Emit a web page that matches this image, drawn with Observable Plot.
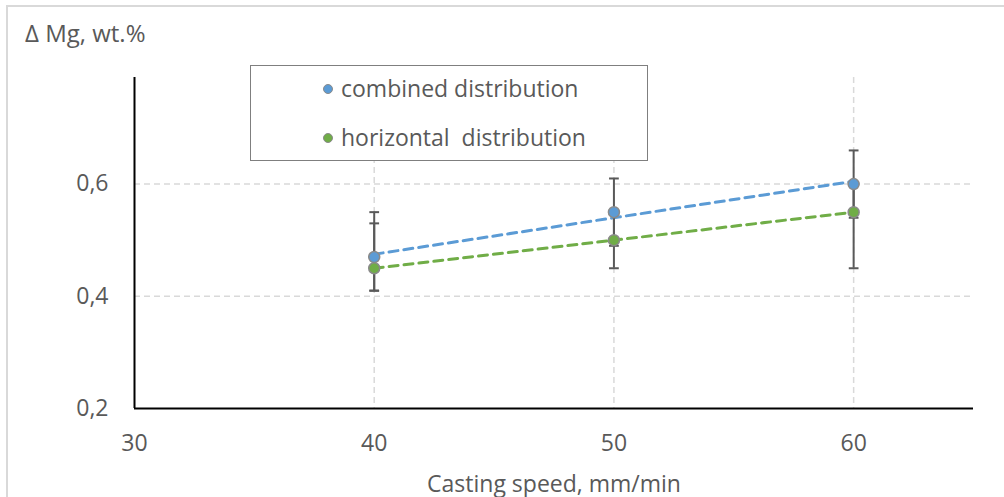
<!DOCTYPE html>
<html>
<head>
<meta charset="utf-8">
<script src="https://cdn.jsdelivr.net/npm/d3@7"></script>
<script src="https://cdn.jsdelivr.net/npm/@observablehq/plot@0.6"></script>
<style>
  html, body { margin: 0; padding: 0; background: #fff; overflow: hidden; }
  #wrap { position: relative; width: 1004px; height: 497px; overflow: hidden; font-family: "Open Sans", Lato, sans-serif; color: #595959; }
  #frame { position: absolute; left: 6px; top: 5px; width: 1020px; height: 520px; border: 2px solid #d9d9d9; box-sizing: border-box; }
  #chart { position: absolute; left: 0; top: 0; }
  #title { position: absolute; left: 25px; top: 18px; font-size: 24px; line-height: 30px; white-space: nowrap; }
  #legend { position: absolute; left: 250px; top: 65px; width: 398px; height: 96px; border: 1.5px solid #7f7f7f; box-sizing: border-box; background: #fff; }
  .item { position: absolute; left: 72px; font-size: 23px; white-space: pre; line-height: 1; }
  .item .sw { display: inline-block; width: 8px; height: 8px; border-radius: 50%; border: 1px solid #8a8a8a; margin-right: 8px; vertical-align: middle; position: relative; top: -2px; }
</style>
</head>
<body>
<div id="wrap">
  <div id="frame"></div>
  <div id="chart"></div>
  <div id="title">Δ Mg, wt.%</div>
  <div id="legend"></div>
</div>
<script>
// ---- data ----
const speeds = [40, 50, 60];
const seriesNames = ["combined distribution", "horizontal  distribution"];
const seriesColors = ["#5b9bd5", "#70ad47"];
const combined = [0.47, 0.55, 0.60];
const horizontal = [0.45, 0.50, 0.55];
const combinedLow = [0.41, 0.49, 0.54];
const combinedHigh = [0.55, 0.61, 0.66];
const horizontalLow = [0.41, 0.45, 0.45];
const horizontalHigh = [0.53, 0.55, 0.60];
const xTicks = [30, 40, 50, 60];
const yTicks = [0.2, 0.4, 0.6];
const xGrid = [40, 50, 60];
const yGrid = [0.4, 0.6];
const xLabel = "Casting speed, mm/min";

// ---- build table ----
const rows = [];
speeds.forEach((s, i) => {
  rows.push({x: s, y: combined[i], lo: combinedLow[i], hi: combinedHigh[i], series: seriesNames[0]});
  rows.push({x: s, y: horizontal[i], lo: horizontalLow[i], hi: horizontalHigh[i], series: seriesNames[1]});
});
const caps = rows.flatMap(d => [{x: d.x, y: d.lo}, {x: d.x, y: d.hi}]);

// horizontal cap symbol
const capSymbol = {
  draw(context, size) {
    const w = Math.sqrt(size) / 2;
    context.moveTo(-w, 0);
    context.lineTo(w, 0);
  }
};

const fmt = d => d.toFixed(1).replace(".", ",");

const chart = Plot.plot({
  width: 1004,
  height: 497,
  marginLeft: 134,
  marginRight: 31,
  marginTop: 77,
  marginBottom: 89,
  style: {fontFamily: "'Open Sans', Lato, sans-serif", fontSize: "23px", color: "#595959", background: "transparent"},
  x: {domain: [30, 65]},
  y: {domain: [0.2, 0.79]},
  color: {domain: seriesNames, range: seriesColors},
  marks: [
    Plot.gridX(xGrid, {stroke: "#d9d9d9", strokeOpacity: 1, strokeWidth: 1.5, strokeDasharray: "6,4"}),
    Plot.gridY(yGrid, {stroke: "#d9d9d9", strokeOpacity: 1, strokeWidth: 1.5, strokeDasharray: "6,4"}),
    Plot.axisY({ticks: yTicks, tickSize: 0, tickPadding: 26, tickFormat: fmt, label: null, fontSize: 23}),
    Plot.axisX({ticks: xTicks, tickSize: 0, tickPadding: 26, label: xLabel, labelAnchor: "center", labelOffset: 83, labelArrow: "none", fontSize: 23}),
    Plot.ruleX([30], {stroke: "#000", strokeWidth: 2}),
    Plot.ruleY([0.2], {stroke: "#000", strokeWidth: 2}),
    Plot.linearRegressionY(rows, {x: "x", y: "y", stroke: "series", ci: 0, strokeWidth: 3, strokeDasharray: "9,6"}),
    Plot.ruleX(rows, {x: "x", y1: "lo", y2: "hi", stroke: "#595959", strokeWidth: 2}),
    Plot.dot(caps, {x: "x", y: "y", symbol: capSymbol, r: 5.5, stroke: "#595959", strokeWidth: 2, fill: "none"}),
    Plot.dot(rows, {x: "x", y: "y", fill: "series", stroke: "#8a8a8a", strokeWidth: 1.5, r: 5.5})
  ]
});
document.getElementById("chart").appendChild(chart);

// legend
const legend = document.getElementById("legend");
seriesNames.forEach((name, i) => {
  const el = document.createElement("div");
  el.className = "item";
  el.style.top = (i === 0 ? 11 : 60) + "px";
  el.innerHTML = `<span class="sw" style="background:${seriesColors[i]}"></span>${name}`;
  legend.appendChild(el);
});
</script>
</body>
</html>
